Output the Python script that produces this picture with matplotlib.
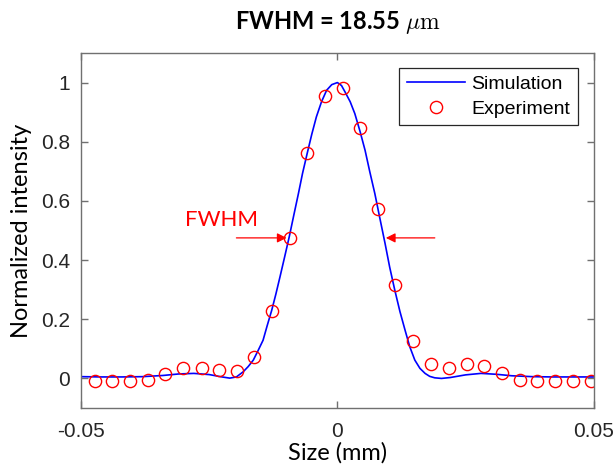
import numpy as np
import matplotlib
matplotlib.use("Agg")
import matplotlib.pyplot as plt

# simulated profile
sim_x = [-0.05, -0.046, -0.042, -0.038, -0.034, -0.031, -0.028, -0.025, -0.0225, -0.021,
         -0.0197, -0.0184, -0.0174, -0.0164, -0.0155, -0.0145, -0.0137, -0.0128, -0.012, -0.0112,
         -0.0103, -0.0094, -0.0085, -0.0076, -0.0068, -0.0059, -0.005, -0.0041, -0.0031, -0.0021,
         -0.0011, 0.0, 0.0008, 0.0015, 0.0025, 0.0034, 0.0044, 0.0054, 0.0063, 0.0073,
         0.0083, 0.0093, 0.0102, 0.0112, 0.0122, 0.0132, 0.0141, 0.0151, 0.0161, 0.0171,
         0.018, 0.019, 0.0203, 0.022, 0.025, 0.028, 0.031, 0.034, 0.038, 0.042, 0.046, 0.05]
sim_y = [0.006, 0.005, 0.005, 0.006, 0.010, 0.015, 0.017, 0.013, 0.005, 0.001,
         0.005, 0.022, 0.040, 0.062, 0.093, 0.129, 0.178, 0.231, 0.285, 0.343,
         0.410, 0.478, 0.552, 0.625, 0.693, 0.760, 0.825, 0.884, 0.935, 0.974,
         0.993, 1.0, 0.990, 0.968, 0.935, 0.895, 0.836, 0.771, 0.700, 0.625,
         0.540, 0.456, 0.376, 0.298, 0.226, 0.163, 0.108, 0.062, 0.034, 0.017,
         0.007, 0.002, 0.0, 0.003, 0.012, 0.017, 0.014, 0.009, 0.006, 0.005, 0.005, 0.005]

# measured points
exp_x = [-0.0473, -0.0439, -0.0405, -0.0370, -0.0336, -0.0301, -0.0265, -0.0231, -0.0196, -0.0162,
         -0.0128, -0.0093, -0.0059, -0.0024, 0.0011, 0.0044, 0.0079, 0.0113, 0.0148, 0.0183,
         0.0218, 0.0252, 0.0286, 0.0321, 0.0356, 0.0390, 0.0425, 0.0460, 0.0494]
exp_y = [-0.009, -0.009, -0.009, -0.004, 0.0145, 0.036, 0.036, 0.028, 0.025, 0.073,
         0.228, 0.475, 0.763, 0.955, 0.980, 0.848, 0.571, 0.315, 0.128, 0.048,
         0.036, 0.048, 0.042, 0.020, -0.006, -0.009, -0.009, -0.009, -0.009]

xticks = [-0.05, 0, 0.05]
xtick_labels = ["-0.05", "0", "0.05"]
yticks = [0, 0.2, 0.4, 0.6, 0.8, 1]
ytick_labels = ["0", "0.2", "0.4", "0.6", "0.8", "1"]

fwhm_y = 0.475
left_arrow = (-0.0197, -0.0099)
right_arrow = (0.0190, 0.00945)

plt.rcParams['mathtext.fontset'] = 'cm'
axis_grey = '#707070'

fig = plt.figure(figsize=(6.14, 4.73), dpi=100)
ax = fig.add_axes([0.132, 0.1374, 0.835, 0.7506])

ax.plot(sim_x, sim_y, color='#0000ff', lw=1.2, label='Simulation')
ax.plot(exp_x, exp_y, 'o', mfc='none', mec='#ff0000', ms=8.8, mew=1.0,
        linestyle='none', label='Experiment')

ax.set_xlim(-0.05, 0.05)
ax.set_ylim(-0.1, 1.1)
ax.set_xticks(xticks)
ax.set_xticklabels(xtick_labels)
ax.set_yticks(yticks)
ax.set_yticklabels(ytick_labels)

for s in ax.spines.values():
    s.set_color(axis_grey)
    s.set_linewidth(1.0)
ax.tick_params(direction='in', length=5, width=1.0, color=axis_grey,
               top=True, right=True, labelsize=15, labelcolor='#262626')
ax.tick_params(axis='x', pad=10)
ax.tick_params(axis='y', pad=8)
for lab in ax.get_xticklabels() + ax.get_yticklabels():
    lab.set_fontfamily('Liberation Sans')

ax.set_title(r'FWHM = 18.55 $\mu\mathrm{m}$', fontfamily='Lato', fontweight='bold',
             fontsize=17, pad=17)
ax.set_ylabel('Normalized intensity', fontfamily='Lato', fontsize=17, labelpad=6)
ax.set_xlabel('Size (mm)', fontfamily='Lato', fontsize=17, labelpad=1)

# FWHM arrows
ax.annotate('', xy=(left_arrow[1], fwhm_y), xytext=(left_arrow[0], fwhm_y),
            arrowprops=dict(arrowstyle='-|>', color='#ff0000', lw=0.9,
                            mutation_scale=14, shrinkA=0, shrinkB=0))
ax.annotate('', xy=(right_arrow[1], fwhm_y), xytext=(right_arrow[0], fwhm_y),
            arrowprops=dict(arrowstyle='-|>', color='#ff0000', lw=0.9,
                            mutation_scale=14, shrinkA=0, shrinkB=0))
ax.text(-0.0226, 0.537, 'FWHM', color='#ff0000', fontfamily='Lato', fontsize=16,
        ha='center', va='center')

leg = ax.legend(loc='upper right', bbox_to_anchor=(0.969, 0.958), fancybox=False,
                framealpha=1, edgecolor='#262626', borderpad=0.4, borderaxespad=0,
                handlelength=3.0, handletextpad=0.3, labelspacing=0.35,
                prop={'family': 'Liberation Sans', 'size': 14})
leg.get_frame().set_linewidth(0.9)

fig.savefig('out.png', dpi=100)
